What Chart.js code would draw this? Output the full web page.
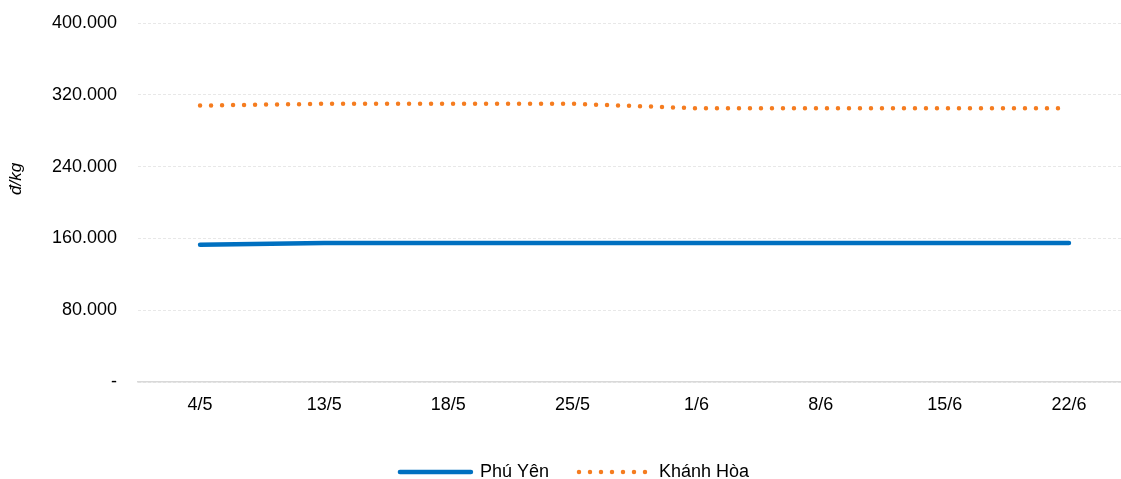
<!DOCTYPE html>
<html>
<head>
<meta charset="utf-8">
<script src="https://cdn.jsdelivr.net/npm/chart.js@4/dist/chart.umd.min.js"></script>
<style>
  html, body { margin: 0; padding: 0; background: #fff; overflow: hidden; }
  #wrap { width: 1131px; height: 479px; }
</style>
</head>
<body>
<div id="wrap"><canvas id="gia" width="1131" height="479"></canvas></div>
<script>
// ngày
var labels = ["4/5", "13/5", "18/5", "25/5", "1/6", "8/6", "15/6", "22/6"];
// giá (đ/kg)
var phuYen = [153000, 155000, 155000, 155000, 155000, 155000, 155000, 155000];
var khanhHoa = [308000, 310000, 310000, 310000, 305000, 305000, 305000, 305000];
var yTicks = [0, 80000, 160000, 240000, 320000, 400000];

function fmt(v) {
    if (v === 0) return "-";
    return String(v).replace(/\B(?=(\d{3})+(?!\d))/g, ".");
}

// đẩy legend xuống dưới / sang phải cho giống ảnh gốc
var legendNudge = {
    id: 'legendNudge',
    afterLayout: function(chart) {
        var lg = chart.legend;
        if (!lg) return;
        lg.left += 9; lg.right += 9;
        lg.top += 12; lg.bottom += 12;
    }
};

Chart.defaults.font.family = "'Liberation Sans', Arial, sans-serif";
Chart.defaults.color = "#000";

var ctx = document.getElementById("gia").getContext("2d");
var chart = new Chart(ctx, {
    type: 'line',
    data: {
        labels: labels,
        datasets: [{
            label: "Phú Yên",
            data: phuYen,
            borderColor: '#0070C0',
            backgroundColor: '#0070C0',
            borderWidth: 4.5,
            borderCapStyle: 'round',
            pointRadius: 0,
            tension: 0
        }, {
            label: "Khánh Hòa",
            data: khanhHoa,
            borderColor: '#F57C1F',
            backgroundColor: '#F57C1F',
            borderWidth: 4.5,
            borderCapStyle: 'round',
            borderDash: [0, 11],
            pointRadius: 0,
            tension: 0
        }]
    },
    options: {
        responsive: false,
        animation: false,
        layout: { padding: { top: 23, left: 0, right: 0, bottom: 0 } },
        scales: {
            x: {
                offset: true,
                grid: { display: false, drawTicks: false },
                border: { display: true, color: '#d9d9d9', width: 1.5 },
                ticks: { font: { size: 18 }, padding: 12, color: '#000', maxRotation: 0 },
                afterFit: function(s) { s.height = 39; }
            },
            y: {
                min: 0,
                max: 400000,
                afterBuildTicks: function(s) {
                    s.ticks = yTicks.map(function(v) { return { value: v }; });
                },
                grid: { color: '#e8e8e8', drawTicks: false, lineWidth: 1 },
                border: { display: false, dash: [3, 2] },
                ticks: { font: { size: 18 }, padding: 21, color: '#000', callback: fmt },
                title: {
                    display: true,
                    text: "          đ/kg",
                    font: { size: 17, style: 'italic' },
                    color: '#000',
                    padding: { top: 6, bottom: 0 }
                },
                afterFit: function(s) {
                    s.width = 138;
                    s.paddingTop = 0;
                    s.paddingBottom = 0;
                }
            }
        },
        plugins: {
            legend: {
                display: true,
                position: 'bottom',
                labels: {
                    usePointStyle: true,
                    pointStyle: 'line',
                    pointStyleWidth: 71,
                    font: { size: 18 },
                    color: '#000',
                    padding: 30,
                    generateLabels: function(chart) {
                        var items = Chart.defaults.plugins.legend.labels.generateLabels(chart);
                        items.forEach(function(it) {
                            var ds = chart.data.datasets[it.datasetIndex];
                            it.lineDash = ds.borderDash || [];
                            it.lineCap = 'round';
                            it.lineWidth = ds.borderWidth;
                            it.strokeStyle = ds.borderColor;
                        });
                        return items;
                    }
                }
            },
            tooltip: { enabled: false }
        }
    },
    plugins: [legendNudge]
});
</script>
</body>
</html>
